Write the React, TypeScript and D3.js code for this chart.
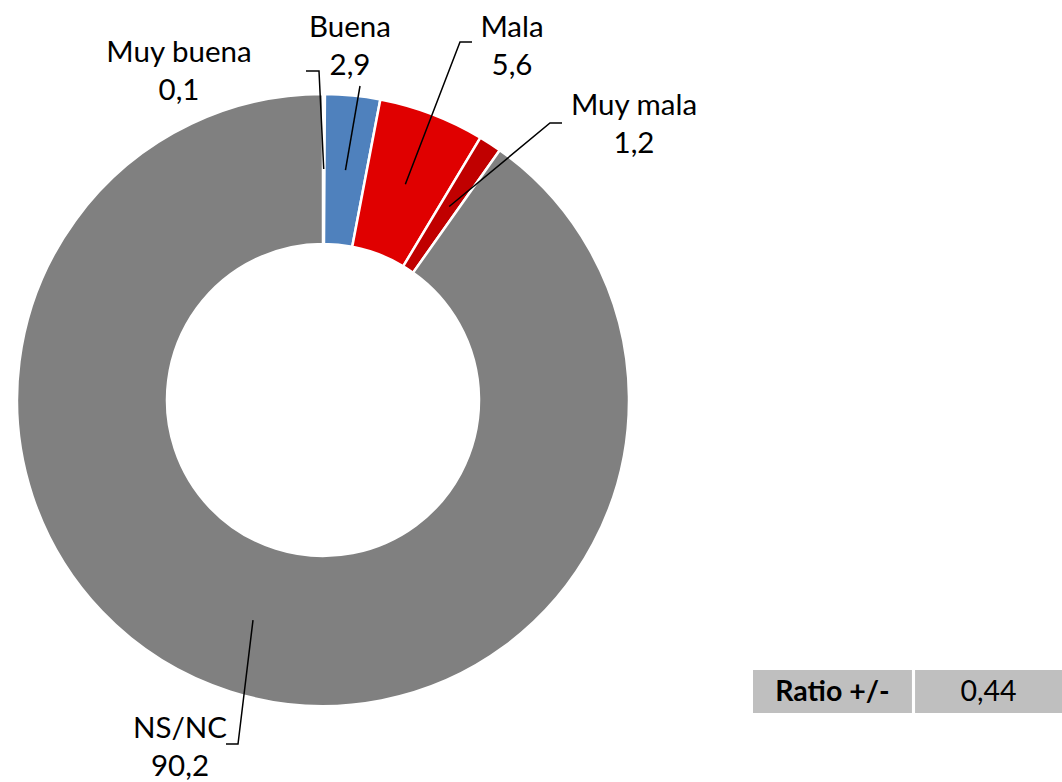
import React, { useEffect, useRef } from "react";
import * as d3 from "d3";

// data
const categories = ["Muy buena", "Buena", "Mala", "Muy mala", "NS/NC"];
const values = [0.1, 2.9, 5.6, 1.2, 90.2];
const colors = ["#1F497D", "#4F81BD", "#E00000", "#C00000", "#808080"];

const ratioLabel = "Ratio +/-";
const ratioValue = 0.44;

// label placement (elbow of the leader line, end of the short tick, text centre/baseline)
const labelLayout = [
  { ex: 319, ey: 71, hx: 306, tx: 179, ty: 62 },
  { ex: 360, ey: 86, hx: 360, tx: 350, ty: 37 },
  { ex: 460, ey: 42, hx: 472, tx: 512, ty: 37 },
  { ex: 550, ey: 123, hx: 562, tx: 634, ty: 115 },
  { ex: 238, ey: 744, hx: 226, tx: 180, ty: 738 },
];

const fmt = (v: number) => d3.format(".1f")(v).replace(".", ",");

const App: React.FC = () => {
  const svgRef = useRef<SVGSVGElement>(null);

  useEffect(() => {
    const width = 1062;
    const height = 782;
    const cx = 323;
    const cy = 400;
    const outerR = 306;
    const innerR = 156;
    const font = "Lato, 'Open Sans', sans-serif";

    const svg = d3.select(svgRef.current);
    svg.selectAll("*").remove();
    svg.attr("width", width).attr("height", height);

    const data = categories.map((c, i) => ({ cat: c, value: values[i], color: colors[i], i }));

    const pie = d3
      .pie<typeof data[number]>()
      .sort(null)
      .value((d) => d.value);

    const arc = d3
      .arc<d3.PieArcDatum<typeof data[number]>>()
      .innerRadius(innerR)
      .outerRadius(outerR);

    const midArc = d3
      .arc<d3.PieArcDatum<typeof data[number]>>()
      .innerRadius((innerR + outerR) / 2 - 75)
      .outerRadius((innerR + outerR) / 2 + 75);

    const arcs = pie(data);

    const g = svg.append("g").attr("transform", `translate(${cx},${cy})`);

    g.selectAll("path.slice")
      .data(arcs)
      .enter()
      .append("path")
      .attr("class", "slice")
      .attr("d", arc)
      .attr("fill", (d) => d.data.color)
      .attr("stroke", "#fff")
      .attr("stroke-width", 2.5);

    // leader lines
    const lines = svg.append("g");
    arcs.forEach((d) => {
      const [mx, my] = midArc.centroid(d);
      const L = labelLayout[d.data.i];
      const pts: [number, number][] = [
        [cx + mx, cy + my],
        [L.ex, L.ey],
        [L.hx, L.ey],
      ];
      lines
        .append("path")
        .attr("d", d3.line()(pts))
        .attr("fill", "none")
        .attr("stroke", "#000")
        .attr("stroke-width", 1.5);
    });

    // labels
    const labels = svg.append("g").attr("font-family", font).attr("font-size", 29.5).attr("fill", "#000");
    data.forEach((d) => {
      const L = labelLayout[d.i];
      const t = labels.append("text").attr("text-anchor", "middle");
      t.append("tspan").attr("x", L.tx).attr("y", L.ty).text(d.cat);
      t.append("tspan").attr("x", L.tx).attr("y", L.ty + 38).text(fmt(d.value));
    });

    // ratio box
    const box = svg.append("g").attr("font-family", font).attr("font-size", 28.5);
    const x = d3.scaleBand().domain(["label", "value"]).range([753, 1062]).paddingInner(0.02);
    box
      .append("rect")
      .attr("x", x("label")!)
      .attr("y", 670)
      .attr("width", x.bandwidth() + 6)
      .attr("height", 43)
      .attr("fill", "#BFBFBF");
    box
      .append("rect")
      .attr("x", x("value")! + 6)
      .attr("y", 670)
      .attr("width", x.bandwidth() - 6)
      .attr("height", 43)
      .attr("fill", "#BFBFBF");
    box
      .append("text")
      .attr("x", x("label")! + (x.bandwidth() + 6) / 2)
      .attr("y", 701)
      .attr("text-anchor", "middle")
      .attr("font-weight", "bold")
      .text(ratioLabel);
    box
      .append("text")
      .attr("x", x("value")! + 6 + (x.bandwidth() - 6) / 2)
      .attr("y", 701)
      .attr("text-anchor", "middle")
      .text(d3.format(".2f")(ratioValue).replace(".", ","));
  }, []);

  return (
    <div style={{ position: "absolute", left: 0, top: 0 }}>
      <svg ref={svgRef} style={{ display: "block", background: "#fff" }}></svg>
    </div>
  );
};

export default App;
